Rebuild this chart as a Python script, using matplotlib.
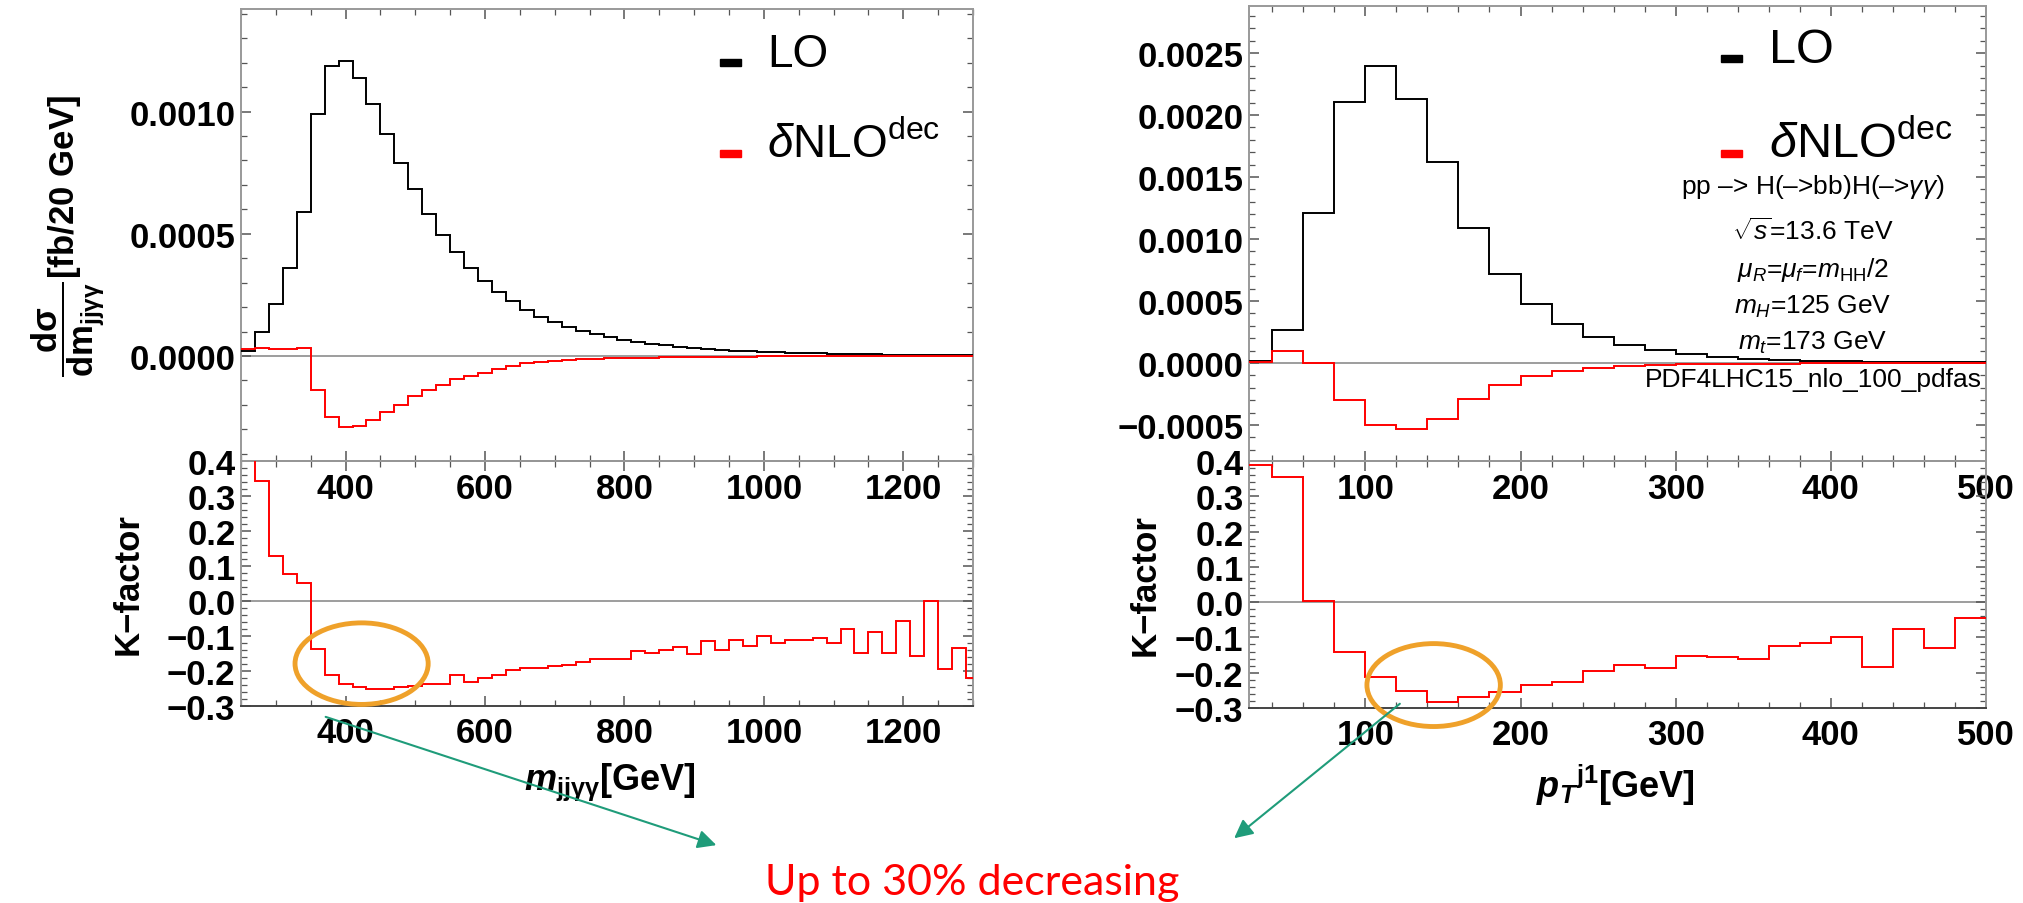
import matplotlib
matplotlib.use("Agg")
import matplotlib.pyplot as plt
from matplotlib.patches import Ellipse, FancyArrowPatch, Rectangle
from matplotlib.ticker import MultipleLocator, FuncFormatter
import numpy as np

plt.rcParams['font.family'] = ['Liberation Sans', 'DejaVu Sans']
plt.rcParams['font.weight'] = 'bold'
plt.rcParams['axes.labelweight'] = 'bold'
plt.rcParams['mathtext.fontset'] = 'custom'
plt.rcParams['mathtext.rm'] = 'Liberation Sans:weight=normal'
plt.rcParams['mathtext.it'] = 'Liberation Sans:italic:weight=normal'
plt.rcParams['mathtext.bf'] = 'Liberation Sans:weight=bold'
plt.rcParams['mathtext.bfit'] = 'Liberation Sans:italic:weight=bold'

# ---- data: m_jjyy distribution (20 GeV bins from 250 GeV) ----
m_edges = np.arange(250, 1311, 20)
m_lo = [0.000022, 0.000097, 0.000211, 0.000359, 0.000591,
        0.000989, 0.001188, 0.001206, 0.001137, 0.00103,
        0.000909, 0.000791, 0.000684, 0.000581, 0.000497,
        0.000425, 0.000359, 0.000307, 0.000262, 0.000224,
        0.000188, 0.00016, 0.000138, 0.000119, 0.000102,
        0.000088, 0.000076, 0.000066, 0.000058, 0.00005,
        0.000044, 0.000038, 0.000033, 0.000029, 0.000025,
        0.000022, 0.000019, 0.000017, 0.000015, 0.000013,
        0.000011, 0.00001, 0.000009, 0.000008, 0.000007,
        0.000006, 0.0000055, 0.000005, 0.0000045, 0.000004,
        0.0000035, 0.000003, 0.000003]
m_dnlo = [0.0000276, 0.0000345, 0.000028, 0.000028, 0.000032,
          -0.000141, -0.000251, -0.000289, -0.000286, -0.000262,
          -0.000231, -0.000199, -0.000166, -0.000138, -0.000117,
          -0.0000925, -0.000083, -0.000068, -0.000054, -0.00004,
          -0.00003, -0.000025, -0.000019, -0.000015, -0.000013,
          -0.000011, -0.0000095, -0.0000085, -0.0000075, -0.0000065,
          -0.000006, -0.000005, -0.000005, -0.0000035, -0.0000035,
          -0.0000025, -0.0000025, -0.0000017, -0.0000018, -0.0000014,
          -0.0000012, -0.000001, -0.000001, -0.0000006, -0.000001,
          -0.0000005, -0.0000008, -0.0000003, -0.0000007, 0.0,
          -0.0000007, -0.0000004, -0.0000007]
m_kfac = [1.25, 0.343, 0.129, 0.078, 0.052,
          -0.138, -0.21, -0.238, -0.246, -0.25,
          -0.252, -0.246, -0.243, -0.236, -0.236,
          -0.212, -0.231, -0.219, -0.21, -0.198,
          -0.19, -0.19, -0.186, -0.184, -0.174,
          -0.167, -0.167, -0.165, -0.143, -0.148,
          -0.139, -0.13, -0.15, -0.114, -0.14,
          -0.112, -0.129, -0.1, -0.119, -0.11,
          -0.111, -0.105, -0.121, -0.079, -0.148,
          -0.089, -0.148, -0.057, -0.157, 0.0,
          -0.195, -0.135, -0.219]

# ---- data: leading-jet pT distribution (20 GeV bins from 20 GeV) ----
pt_edges = np.arange(20, 501, 20)
pt_lo = [0.000016, 0.000263, 0.001209, 0.002104, 0.002393, 0.002133,
         0.001624, 0.001088, 0.000718, 0.000477, 0.000316, 0.000214,
         0.000147, 0.000102, 0.000072, 0.000048, 0.000035, 0.000027,
         0.000019, 0.000013, 0.000011, 0.000008, 0.000006, 0.000005]
pt_dnlo = [0.000008, 0.0000965, 0.000003, -0.000295, -0.000501, -0.000533,
           -0.000453, -0.000287, -0.00018, -0.000107, -0.000067, -0.00004,
           -0.000024, -0.000016, -0.000011, -0.0000075, -0.0000055, -0.000004,
           -0.000003, -0.000002, -0.000002, -0.0000015, -0.000001, -0.000001]
pt_kfac = [0.388, 0.354, 0.002, -0.141, -0.212, -0.252, -0.282, -0.268,
           -0.255, -0.234, -0.225, -0.196, -0.177, -0.186, -0.153, -0.156,
           -0.16, -0.123, -0.115, -0.098, -0.184, -0.076, -0.13, -0.046]

info_lines = [r'pp –> H(–>bb)H(–>$\gamma\gamma$)',
              r'$\sqrt{s}$=13.6 TeV',
              r'$\mu_R$=$\mu_f$=$m_{\mathrm{HH}}$/2',
              r'$m_H$=125 GeV',
              r'$m_t$=173 GeV',
              'PDF4LHC15_nlo_100_pdfas']

W, H = 2024, 904
fig = plt.figure(figsize=(W / 100, H / 100), dpi=100)
RED = '#ff0000'
ORANGE = '#efa12a'
GREEN = '#1f9c7a'


def add_ax(x0, y0, x1, y1):
    return fig.add_axes([x0 / W, 1 - y1 / H, (x1 - x0) / W, (y1 - y0) / H])


def fmt(dec):
    def f(v, pos):
        s = f'{v:.{dec}f}'
        if float(s) == 0:
            s = f'{0:.{dec}f}'
        return s.replace('-', '\u2212')
    return FuncFormatter(f)


def style(ax, xmaj, xmin, ymaj, ymin, ydec, xpad):
    ax.xaxis.set_major_locator(MultipleLocator(xmaj))
    ax.xaxis.set_minor_locator(MultipleLocator(xmin))
    ax.yaxis.set_major_locator(MultipleLocator(ymaj))
    ax.yaxis.set_minor_locator(MultipleLocator(ymin))
    ax.yaxis.set_major_formatter(fmt(ydec))
    ax.xaxis.set_major_formatter(FuncFormatter(lambda v, p: f'{v:.0f}'))
    ax.tick_params(which='both', direction='in', top=True, right=True,
                   color='#555555', labelsize=25)
    ax.tick_params(which='major', length=7, width=1.1)
    ax.tick_params(which='minor', length=4, width=0.9)
    ax.tick_params(axis='y', pad=4)
    ax.tick_params(axis='x', pad=xpad)
    for sp in ax.spines.values():
        sp.set_color('#999999')
        sp.set_linewidth(1.4)
    ax.set_facecolor('none')
    ax.axhline(0, color='#8c8c8c', lw=1.2, zorder=1)


def legend(ax_x, lo_base, nlo_base, txt_x, size):
    for base, col, lab in [(lo_base, 'black', 'LO'),
                           (nlo_base, RED, r'$\mathit{\delta}\mathrm{NLO}^{\mathrm{dec}}$')]:
        fig.patches.append(Rectangle((ax_x / W, 1 - base / H), 21 / W, 7 / H,
                                     transform=fig.transFigure, color=col))
        fig.text(txt_x / W, 1 - base / H, lab, fontsize=size, weight='normal',
                 ha='left', va='baseline')


# ---------- left panel ----------
axL = add_ax(241, 10, 973, 462)
axL.stairs(m_lo, m_edges, color='black', lw=1.4, baseline=None, zorder=3)
axL.stairs(m_dnlo, m_edges, color=RED, lw=1.4, baseline=None, zorder=3)
axL.set_xlim(250, 1300)
axL.set_ylim(-0.00043, 0.00142)
style(axL, 200, 50, 0.0005, 0.0001, 4, 8)
axL.spines['bottom'].set_color('#444444')
axL.set_ylabel(r'$\mathbf{\dfrac{d\sigma}{dm_{jj\gamma\gamma}}}$[fb/20 GeV]',
               fontsize=25, va='center')
axL.yaxis.set_label_coords(-0.236, 0.50)

axLk = add_ax(241, 462, 973, 707)
axLk.stairs(m_kfac, m_edges, color=RED, lw=1.4, baseline=None, zorder=3)
axLk.set_xlim(250, 1300)
axLk.set_ylim(-0.3, 0.4)
style(axLk, 200, 50, 0.1, 0.02, 1, 7)
axLk.spines['bottom'].set_color('#444444')
axLk.set_ylabel('K\u2212factor', fontsize=25, va='center')
axLk.yaxis.set_label_coords(-0.154, 0.5)
axLk.set_xlabel(r'$\mathbfit{m}_{\mathbf{jj\gamma\gamma}}$[GeV]', fontsize=26,
                va='baseline')
axLk.xaxis.set_label_coords(0.504, -0.339)
axLk.add_patch(Ellipse((423, -0.179), 191, 0.233, fill=False, ec=ORANGE,
                       lw=3.5, clip_on=False, zorder=5))

legend(720, 67, 158, 767, 33)

# ---------- right panel ----------
axR = add_ax(1249, 7, 1986, 462)
axR.stairs(pt_lo, pt_edges, color='black', lw=1.4, baseline=None, zorder=3)
axR.stairs(pt_dnlo, pt_edges, color=RED, lw=1.4, baseline=None, zorder=3)
axR.set_xlim(25, 500)
axR.set_ylim(-0.00079, 0.00288)
style(axR, 100, 20, 0.0005, 0.0001, 4, 8)
axR.spines['bottom'].set_color('#444444')

axRk = add_ax(1249, 462, 1986, 709)
axRk.stairs(pt_kfac, pt_edges, color=RED, lw=1.4, baseline=None, zorder=3)
axRk.set_xlim(25, 500)
axRk.set_ylim(-0.3, 0.4)
style(axRk, 100, 20, 0.1, 0.02, 1, 7)
axRk.spines['bottom'].set_color('#444444')
axRk.set_ylabel('K\u2212factor', fontsize=25, va='center')
axRk.yaxis.set_label_coords(-0.141, 0.5)
axRk.set_xlabel(r'${\mathbfit{p}_{\mathbfit{T}}}^{\mathbf{j1}}$[GeV]', fontsize=26,
                va='baseline')
axRk.xaxis.set_label_coords(0.497, -0.36)
axRk.add_patch(Ellipse((144, -0.235), 86, 0.235, fill=False, ec=ORANGE,
                       lw=3.5, clip_on=False, zorder=5))

legend(1721, 63, 158, 1769, 35)

for line, yc in zip(info_lines, [187, 232, 270, 307, 343, 380]):
    fig.text(1813 / W, 1 - yc / H, line, fontsize=19, weight='normal',
             ha='center', va='center')

# ---------- arrows and note ----------
for (xa, ya), (xb, yb) in [((323, 717), (719, 847)), ((1402, 703), (1232, 841))]:
    fig.patches.append(FancyArrowPatch((xa / W, 1 - ya / H), (xb / W, 1 - yb / H),
                                       transform=fig.transFigure, arrowstyle='-|>',
                                       mutation_scale=28, lw=1.5, color=GREEN))

fig.text(972 / W, 1 - 895 / H, 'Up to 30% decreasing', color=RED, fontsize=31,
         family='Lato', weight='normal', ha='center', va='baseline')

fig.savefig('out.png', dpi=100)
